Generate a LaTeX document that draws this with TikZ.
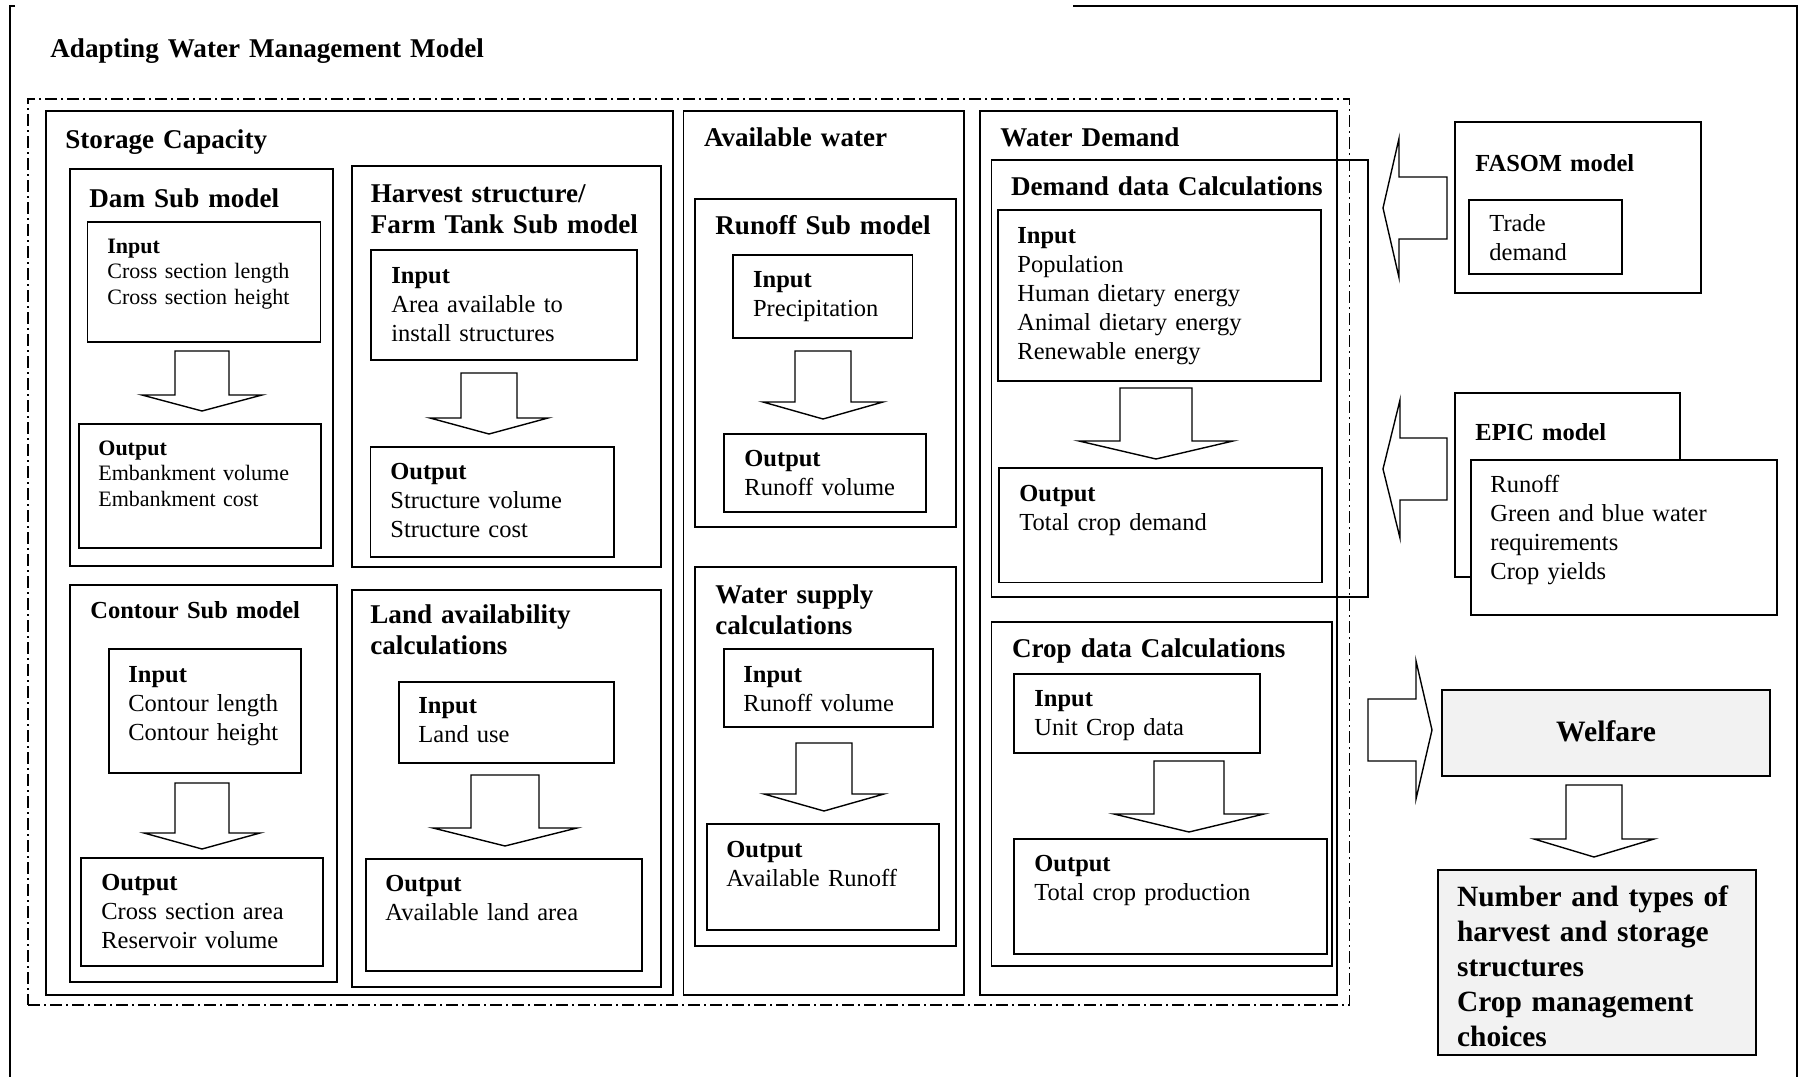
\documentclass[tikz,border=0pt]{standalone}
\usepackage{fontspec}
\setmainfont{Liberation Serif}
\usetikzlibrary{fit}

\begin{document}
\begin{tikzpicture}[x=0.5pt,y=-0.5pt,
  frame/.style={draw,line width=0.9pt,inner sep=0pt},
  greybox/.style={frame,fill=black!5},
  hd/.style={anchor=base west,inner sep=0pt,text width=300pt,align=left,font=\fontsize{13.55}{15.5}\selectfont\bfseries},
  hdsmall/.style={hd,font=\fontsize{12.25}{14.5}\selectfont\bfseries},
  body/.style={anchor=base west,inner sep=0pt,text width=300pt,align=left,font=\fontsize{12.25}{14.5}\selectfont},
  bodysmall/.style={body,font=\fontsize{11}{12.8}\selectfont},
  blockarrow/.style={draw,line width=0.7pt,fill=white}]
  \useasboundingbox (0,0) rectangle (1804,1077);

  \draw [line width=0.9pt] (15,6) -- (10,6) -- (10,1077);
  \draw [line width=0.9pt] (1073,6) -- (1797,6) -- (1797,1077);
  \node [hd] (title) at (50,57) {Adapting Water Management Model};

  \node [frame,line width=0.6pt,dash pattern=on 6pt off 2pt on 1pt off 2pt,fit={(28,99) (1349.5,1005)}] (model) {};

  \foreach \n/\xa/\ya/\xb/\yb in {stor/46/111/673/995, dam/70/169/333/566, dami/87.5/222/320.5/342,
      damo/79/424/321/548, harv/352/166/661/567, harvi/371/250/637/360, harvo/370.5/446.6/614/557,
      cont/70/585/337/982, conti/109/649/301/773, conto/81/858/323/966, land/352/590/661/987,
      landi/399/682/614/763, lando/366/859/642/971, avail/683.5/111/964/995, run/695/199/956/527,
      runi/733/255/912.5/338, runo/724/433.6/926/512, sup/695/567/956/946, supi/724/649/932.6/727,
      supo/706.7/823.7/939/930, dem/980/111/1336.6/995, demc/991.5/160/1368/597, demi/998/210/1321/381,
      demo/999/467.7/1322/582.5, crop/991.5/622/1331.7/966, cropi/1014/673.7/1260/752.7,
      cropo/1014/839/1327/953.7, fasom/1455/122/1700.7/293, trade/1468.7/200/1622/273.6,
      epic/1455/392.6/1680/577}
    \node [frame,fit={(\xa,\ya) (\xb,\yb)}] (\n) {};
  \node [frame,fill=white,fit={(1470.7,460) (1776.7,615)}] (epici) {};
  \node [greybox,fit={(1442,690) (1770,775.7)}] (welf) {};
  \node [greybox,fit={(1437.7,870) (1756,1055)}] (res) {};

  \foreach \cx/\sw/\hw/\yt/\yb/\yp in {202/27/60/351/395/411, 489/28/59/373/418/434, 202/27/58/783/833/849,
      505/34/72/775/828/846, 823/28/60/351/402/419, 824/28/60/743/794/811, 1156/36/77/388/441/459,
      1189/35/75/761/814/832, 1594/28/60/785/839/857}
    \draw [blockarrow] (\cx-\sw,\yt) -- (\cx+\sw,\yt) -- (\cx+\sw,\yb) -- (\cx+\hw,\yb)
      -- (\cx,\yp) -- (\cx-\hw,\yb) -- (\cx-\sw,\yb) -- cycle;
  \foreach \xs/\xh/\xt/\yc/\sw/\hw in {1447/1399/1383/208/31/69.5, 1447/1400/1383/469/31/69, 1368/1416/1432/730/31/69}
    \draw [blockarrow] (\xs,\yc-\sw) -- (\xh,\yc-\sw) -- (\xh,\yc-\hw) -- (\xt,\yc)
      -- (\xh,\yc+\hw) -- (\xh,\yc+\sw) -- (\xs,\yc+\sw) -- cycle;

  \node [hd] (stor-t) at (65,148) {Storage Capacity};
  \node [hd] (dam-t) at (89,207) {Dam Sub model};
  \node [bodysmall] (dami-t) at (107,253) {\textbf{Input}\\Cross section length\\Cross section height};
  \node [bodysmall] (damo-t) at (98,455) {\textbf{Output}\\Embankment volume\\Embankment cost};
  \node [hd] (harv-t) at (370.5,202) {Harvest structure/\\Farm Tank Sub model};
  \node [body] (harvi-t) at (391,283) {\textbf{Input}\\Area available to\\install structures};
  \node [body] (harvo-t) at (390,479) {\textbf{Output}\\Structure volume\\Structure cost};
  \node [hdsmall] (cont-t) at (90,618) {Contour Sub model};
  \node [body] (conti-t) at (128,682) {\textbf{Input}\\Contour length\\Contour height};
  \node [body] (conto-t) at (101,890) {\textbf{Output}\\Cross section area\\Reservoir volume};
  \node [hd] (land-t) at (370,623) {Land availability\\calculations};
  \node [body] (landi-t) at (418,713) {\textbf{Input}\\Land use};
  \node [body] (lando-t) at (385,891) {\textbf{Output}\\Available land area};

  \node [hd] (avail-t) at (703.6,146.6) {Available water};
  \node [hd] (run-t) at (715,234) {Runoff Sub model};
  \node [body] (runi-t) at (752.7,287) {\textbf{Input}\\Precipitation};
  \node [body] (runo-t) at (744,466) {\textbf{Output}\\Runoff volume};
  \node [hd] (sup-t) at (715,603) {Water supply\\calculations};
  \node [body] (supi-t) at (743,682) {\textbf{Input}\\Runoff volume};
  \node [body] (supo-t) at (726,857) {\textbf{Output}\\Available Runoff};

  \node [hd] (dem-t) at (1000,146.6) {Water Demand};
  \node [hd] (demc-t) at (1010.7,195) {Demand data Calculations};
  \node [body] (demi-t) at (1017,243) {\textbf{Input}\\Population\\Human dietary energy\\Animal dietary energy\\Renewable energy};
  \node [body] (demo-t) at (1019,501) {\textbf{Output}\\Total crop demand};
  \node [hd] (crop-t) at (1011.6,657.7) {Crop data Calculations};
  \node [body] (cropi-t) at (1034,706.7) {\textbf{Input}\\Unit Crop data};
  \node [body] (cropo-t) at (1034,871.7) {\textbf{Output}\\Total crop production};

  \node [hdsmall] (fasom-t) at (1475,171) {FASOM model};
  \node [body] (trade-t) at (1489,231) {Trade\\demand};
  \node [hdsmall] (epic-t) at (1475,440) {EPIC model};
  \node [body] (epici-t) at (1490,492) {Runoff\\Green and blue water\\requirements\\Crop yields};
  \node [anchor=base,inner sep=0pt,font=\fontsize{14.8}{17}\selectfont\bfseries] (welf-t) at (1606,741.7) {Welfare};
  \node [hd,font=\fontsize{14.7}{17.5}\selectfont\bfseries] (res-t) at (1456.7,906.7)
    {Number and types of\\harvest and storage\\structures\\Crop management\\choices};
\end{tikzpicture}
\end{document}
